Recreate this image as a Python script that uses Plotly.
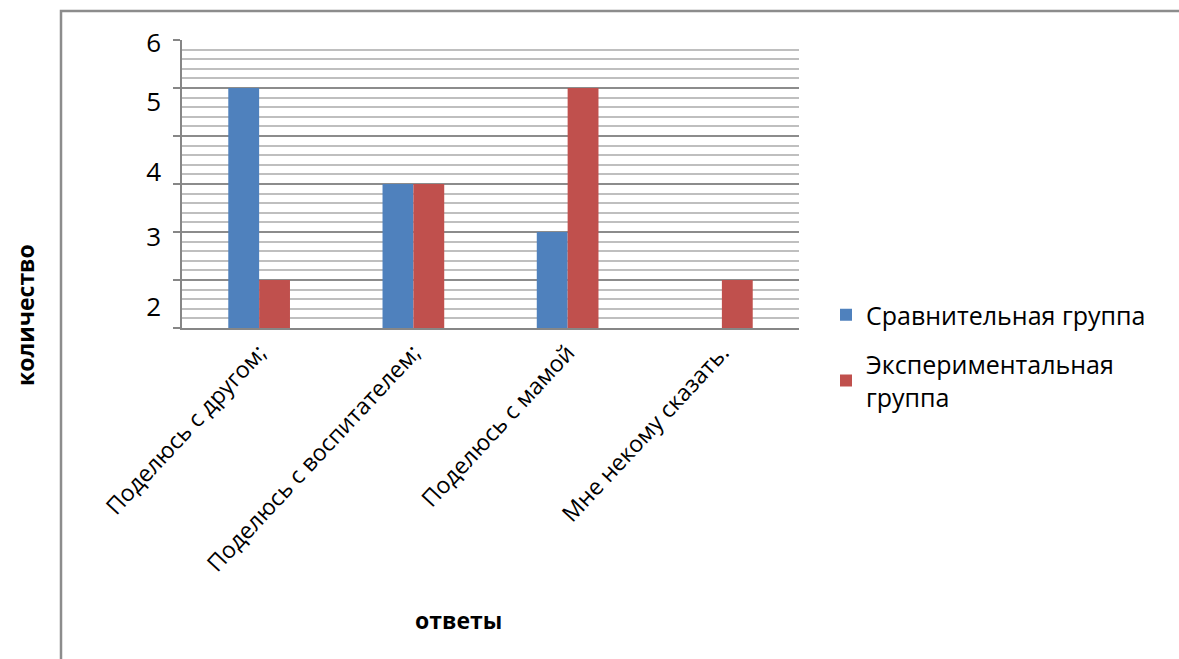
import plotly.graph_objects as go

categories = ["Поделюсь с другом;", "Поделюсь с воспитателем;", "Поделюсь с мамой", "Мне некому сказать."]
series_names = ["Сравнительная группа", "Экспериментальная<br>группа"]
comparison = [5, 3, 2, None]
experimental = [1, 3, 5, 1]
# tick labels as printed on the original (offset from the gridlines)
ytick_text = ["6", "5", "4", "3", "2"]
ytick_pos = [5.94, 4.71, 3.25, 1.9, 0.44]

blue = "#4f81bd"
red = "#c0504d"
FONT = "Open Sans"

fig = go.Figure()
fig.add_trace(go.Bar(x=categories, y=comparison, name=series_names[0],
                     marker=dict(color=blue, line=dict(width=0)), legendgroup="a"))
fig.add_trace(go.Bar(x=categories, y=experimental, name=series_names[1],
                     marker=dict(color=red, line=dict(width=0)), legendgroup="b"))
# invisible helper so the label axis is drawn
fig.add_trace(go.Scatter(x=[categories[0]], y=[None], yaxis="y2", showlegend=False,
                         hoverinfo="skip", mode="markers"))

L, R, T, B = 182, 799, 40, 328
W, H = 1179, 659
pw, ph = R - L, B - T

fig.update_layout(
    width=W, height=H,
    margin=dict(l=L, r=W - R, t=T, b=H - B, autoexpand=False),
    paper_bgcolor="white", plot_bgcolor="white",
    barmode="group", bargap=0.6, bargroupgap=0,
    font=dict(family=FONT, color="black"),
    xaxis=dict(
        showline=True, linecolor="#868686", linewidth=2,
        ticks="", tickangle=-47, tickfont=dict(size=23, family=FONT),
        showgrid=False, automargin=False,
    ),
    yaxis=dict(
        range=[0, 6], dtick=1, tick0=0,
        showline=True, linecolor="#868686", linewidth=2,
        ticks="outside", ticklen=7, tickcolor="#868686", tickwidth=2,
        showticklabels=False,
        showgrid=True, gridcolor="#8c8c8c", gridwidth=2,
        minor=dict(dtick=0.2, tick0=0, showgrid=True, gridcolor="#bfbfbf", gridwidth=2, ticks=""),
        zeroline=False, automargin=False,
    ),
    yaxis2=dict(
        overlaying="y", side="left", range=[0, 6],
        tickvals=ytick_pos, ticktext=ytick_text,
        tickfont=dict(size=26, family=FONT),
        showgrid=False, zeroline=False, showline=False, ticks="",
        ticklabelstandoff=20, automargin=False,
    ),
    legend=dict(
        x=(826 - L) / pw, y=(B - 292) / ph, xanchor="left", yanchor="top",
        font=dict(size=25, family=FONT), tracegroupgap=14,
        itemwidth=30, bgcolor="rgba(0,0,0,0)",
    ),
    showlegend=True,
    annotations=[
        dict(text="<b>количество</b>", xref="paper", yref="paper",
             x=(25 - L) / pw, y=(B - 315) / ph, textangle=-90, showarrow=False,
             font=dict(size=23, family=FONT), xanchor="center", yanchor="middle"),
        dict(text="<b>ответы</b>", xref="paper", yref="paper",
             x=(458 - L) / pw, y=(B - 620) / ph, showarrow=False,
             font=dict(size=23, family=FONT), xanchor="center", yanchor="middle"),
    ],
    shapes=[
        dict(type="rect", xref="paper", yref="paper",
             x0=(61 - L) / pw, x1=(1300 - L) / pw, y0=(B - 800) / ph, y1=(B - 11) / ph,
             line=dict(color="#8c8c8c", width=2.5), fillcolor="rgba(0,0,0,0)", layer="below"),
    ],
)

fig.write_html("out.html")
